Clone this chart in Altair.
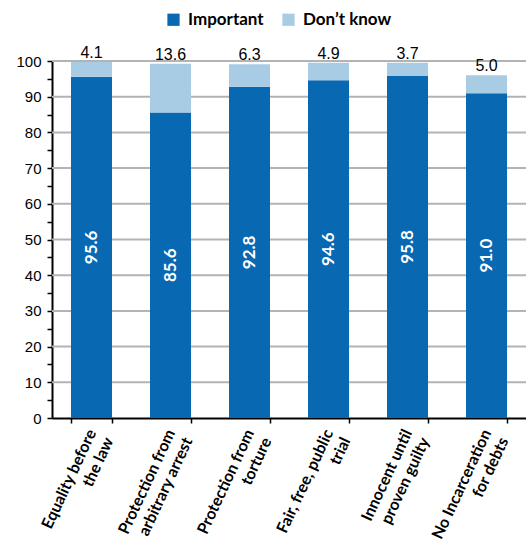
import altair as alt
import pandas as pd

# Category labels ("|" marks the line break on the axis)
categories = [
    "Equality before|the law",
    "Protection from|arbitrary arrest",
    "Protection from|torture",
    "Fair, free, public|trial",
    "Innocent until|proven guilty",
    "No Incarceration|for debts",
]
important = [95.6, 85.6, 92.8, 94.6, 95.8, 91.0]
dont_know = [4.1, 13.6, 6.3, 4.9, 3.7, 5.0]
series = ["Important", "Don\u2019t know"]
colors = ["#0868b2", "#a9cce5"]
grid_values = [10, 20, 30, 40, 50, 60, 70, 80, 90, 100]

PLOT_W = 474
PLOT_H = 357

rows = []
for cat, imp, dk in zip(categories, important, dont_know):
    rows.append({"category": cat, "series": series[0], "value": imp, "ord": 0})
    rows.append({"category": cat, "series": series[1], "value": dk, "ord": 1})
df = pd.DataFrame(rows)

labels = pd.DataFrame({
    "category": categories,
    "important": important,
    "dont_know": dont_know,
})
labels["mid"] = labels["important"] / 2
labels["total"] = labels["important"] + labels["dont_know"]

grid_rows = [{"g": float(v)} for v in grid_values]

y_scale = alt.Scale(domain=[0, 100], nice=False)
x_scale = alt.Scale(paddingInner=0.48, paddingOuter=0.24)

x_axis = alt.Axis(
    labelExpr="split(datum.label, '|')",
    labelAngle=-65,
    labelAlign="right",
    labelBaseline="middle",
    labelFont="Lato",
    labelFontWeight="bold",
    labelFontSize=16,
    labelLineHeight=19,
    labelColor="#000000",
    labelPadding=7,
    tickBand="extent",
    tickSize=5,
    tickColor="#000000",
    tickWidth=1.5,
    domainColor="#000000",
    domainWidth=2,
    grid=False,
)

y_axis = alt.Axis(
    values=list(range(0, 101, 5)),
    labelExpr="datum.value % 10 === 0 ? datum.label : ''",
    labelOverlap=False,
    labelFont="Liberation Sans",
    labelFontSize=15,
    labelColor="#000000",
    labelPadding=6,
    tickSize=5,
    tickColor="#000000",
    tickWidth=1.5,
    domainColor="#000000",
    domainWidth=2,
    grid=False,
)


def x_enc():
    return alt.X("category:N", sort=categories, title=None, scale=x_scale, axis=x_axis)


def y_enc(field, **kw):
    return alt.Y(field, title=None, scale=y_scale, axis=y_axis, **kw)


# horizontal gridlines every 10 units, across the full plot width
grid = alt.Chart(alt.Data(values=grid_rows)).mark_rule(
    stroke="#b3b3b3", strokeWidth=2, opacity=1
).encode(
    y=y_enc("g:Q"),
    x=alt.value(0),
    x2=alt.value(PLOT_W),
)

bars = alt.Chart(df).mark_bar(size=41).encode(
    x=x_enc(),
    y=y_enc("value:Q", stack="zero"),
    color=alt.Color(
        "series:N",
        scale=alt.Scale(domain=series, range=colors),
        legend=alt.Legend(
            title=None,
            orient="none",
            direction="horizontal",
            legendX=113,
            legendY=-50,
            symbolType="square",
            symbolSize=150,
            symbolStrokeWidth=0,
            labelFont="Lato",
            labelFontWeight="bold",
            labelFontSize=17,
            labelColor="#000000",
            labelOffset=6,
            columnPadding=16,
        ),
    ),
    order=alt.Order("ord:Q"),
)

inner = alt.Chart(labels).mark_text(
    angle=270, color="white", font="Lato", fontWeight="bold", fontSize=17
).encode(
    x=x_enc(),
    y=y_enc("mid:Q"),
    text=alt.Text("important:Q", format=".1f"),
)

top = alt.Chart(labels).mark_text(
    baseline="alphabetic", dy=-4, font="Liberation Sans", fontSize=16, color="#000000"
).encode(
    x=x_enc(),
    y=y_enc("total:Q"),
    text=alt.Text("dont_know:Q", format=".1f"),
)

chart = (
    alt.layer(grid, bars, inner, top)
    .properties(
        width=PLOT_W,
        height=PLOT_H,
        background="white",
        autosize=alt.AutoSizeParams(type="none"),
        padding={"left": 52, "top": 61, "right": 0, "bottom": 129},
    )
    .configure_view(stroke=None)
)

chart.save("out.html", embed_options={"renderer": "svg", "actions": False})
